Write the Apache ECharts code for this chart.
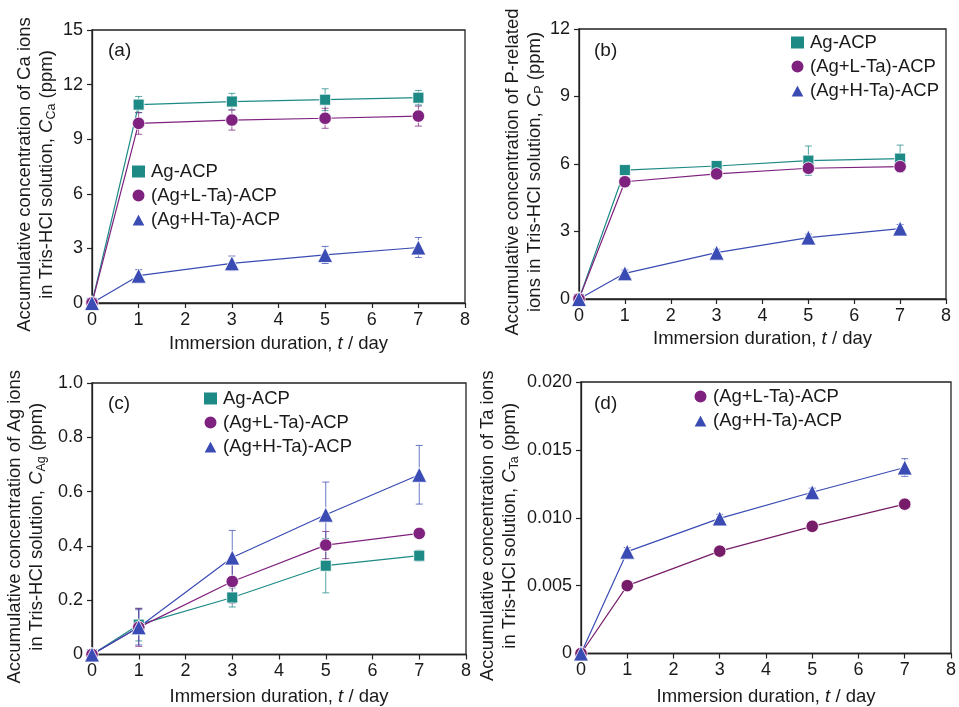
<!DOCTYPE html>
<html>
<head>
<meta charset="utf-8">
<script src="https://cdn.jsdelivr.net/npm/echarts@6/dist/echarts.min.js"></script>
<style>
html,body{margin:0;padding:0;background:#fff;}
#chart{width:959px;height:707px;}
</style>
</head>
<body>
<div id="chart"></div>
<script>
// ---------- data ----------
const days = [0, 1, 3, 5, 7];
const seriesNames = ['Ag-ACP', '(Ag+L-Ta)-ACP', '(Ag+H-Ta)-ACP'];

// (a) Ca ions
const caAg = [0, 10.9, 11.07, 11.17, 11.28];
const caAgErr = [0, 0.45, 0.45, 0.6, 0.4];
const caL = [0, 9.87, 10.05, 10.15, 10.27];
const caLErr = [0, 0.6, 0.55, 0.55, 0.55];
const caH = [0, 1.5, 2.18, 2.64, 3.05];
const caHErr = [0, 0.33, 0.4, 0.47, 0.55];

// (b) P-related ions
const pAg = [0, 5.73, 5.91, 6.15, 6.24];
const pAgErr = [0, 0.1, 0.1, 0.65, 0.6];
const pL = [0, 5.21, 5.56, 5.81, 5.88];
const pLErr = [0, 0.1, 0.12, 0.22, 0.2];
const pH = [0, 1.14, 2.06, 2.73, 3.13];
const pHErr = [0, 0.15, 0.15, 0.15, 0.18];

// (c) Ag ions
const agAg = [0, 0.11, 0.21, 0.327, 0.364];
const agAgErr = [0, 0.06, 0.035, 0.1, 0.02];
const agL = [0, 0.10, 0.269, 0.403, 0.446];
const agLErr = [0, 0.07, 0.08, 0.05, 0.015];
const agH = [0, 0.10, 0.357, 0.515, 0.662];
const agHErr = [0, 0.065, 0.1, 0.12, 0.108];

// (d) Ta ions
const taL = [0, 0.005, 0.00754, 0.00937, 0.0110];
const taLErr = [0, 0.0002, 0.0002, 0.0002, 0.0002];
const taH = [0, 0.0075, 0.00995, 0.01188, 0.0137];
const taHErr = [0, 0.0003, 0.0003, 0.0003, 0.00065];

// axis ticks
const xTicks = [0, 1, 2, 3, 4, 5, 6, 7, 8];
const yTicksA = [0, 3, 6, 9, 12, 15];
const yTicksB = [0, 3, 6, 9, 12];
const yTicksC = [0, 0.2, 0.4, 0.6, 0.8, 1.0];
const yTicksD = [0, 0.005, 0.010, 0.015, 0.020];

const yTitleA = ['Accumulative concentration of Ca ions', 'in Tris-HCl solution, ', 'Ca'];
const yTitleB = ['Accumulative concentration of P-related', 'ions in Tris-HCl solution, ', 'P'];
const yTitleC = ['Accumulative concentration of Ag ions', 'in Tris-HCl solution, ', 'Ag'];
const yTitleD = ['Accumulative concentration of Ta ions', 'in Tris-HCl solution, ', 'Ta'];
const panelLabels = ['(a)', '(b)', '(c)', '(d)'];

// ---------- style ----------
const TEAL = '#1d8a86';
const PURPLE = '#7f227f';
const PURPLE_D = '#761c68';
const BLUE = '#3a4bb3';
const FONT = '"Liberation Sans", Arial, Helvetica, sans-serif';
const TXT = '#1a1a1a';

const grids = [
  {left: 92, top: 30, width: 373, height: 273},
  {left: 579, top: 29, width: 367, height: 270},
  {left: 92, top: 383, width: 374, height: 274},
  {left: 581, top: 382, width: 376, height: 274}
];

const yTickSets = [yTicksA, yTicksB, yTicksC, yTicksD];
const yDecimals = [0, 0, 1, 3];
const yTitles = [yTitleA, yTitleB, yTitleC, yTitleD];
const yNameGaps = [34, 33, 44, 60];
const xNameGaps = [30, 29, 31, 32];

const nameRich = {
  n: {fontSize: 18.5, lineHeight: 22, fontFamily: FONT, color: TXT},
  i: {fontSize: 18.5, lineHeight: 22, fontFamily: FONT, color: TXT, fontStyle: 'italic'},
  s: {fontSize: 12.5, lineHeight: 12, fontFamily: FONT, color: TXT, verticalAlign: 'bottom'}
};

const xAxes = grids.map((g, k) => ({
  type: 'value', gridIndex: k,
  min: xTicks[0], max: xTicks[xTicks.length - 1], interval: xTicks[1] - xTicks[0],
  name: '{n|Immersion duration, }{i|t}{n| / day}',
  nameLocation: 'middle', nameGap: xNameGaps[k],
  nameTextStyle: {rich: nameRich},
  axisLine: {show: true, onZero: false, lineStyle: {color: '#222', width: 1.3}},
  axisTick: {show: true, inside: false, length: 5, lineStyle: {color: '#222', width: 1.2}},
  axisLabel: {fontSize: 18, fontFamily: FONT, color: TXT, margin: 8},
  splitLine: {show: false}
}));

const yAxes = grids.map((g, k) => {
  const t = yTickSets[k];
  const dec = yDecimals[k];
  const tt = yTitles[k];
  return {
    type: 'value', gridIndex: k,
    min: t[0], max: t[t.length - 1], interval: t[1] - t[0],
    name: '{n|' + tt[0] + '}\n{n|' + tt[1] + '}{i|C}{s|' + tt[2] + '}{n| (ppm)}',
    nameLocation: 'middle', nameRotate: 90, nameGap: yNameGaps[k],
    nameTextStyle: {rich: nameRich, align: 'center', padding: [0, 16, 0, 0]},
    axisLine: {show: true, onZero: false, lineStyle: {color: '#222', width: 1.3}},
    axisTick: {show: true, inside: false, length: 5, lineStyle: {color: '#222', width: 1.2}},
    axisLabel: {fontSize: 18, fontFamily: FONT, color: TXT, margin: 9,
      formatter: v => (Math.abs(v) < 1e-12 ? '0' : v.toFixed(dec))},
    splitLine: {show: false}
  };
});

function errRender(params, api) {
  const x = api.value(0), y = api.value(1), e = api.value(2);
  if (!e) return null;
  const hi = api.coord([x, y + e]);
  const lo = api.coord([x, y - e]);
  const cw = 3.5;
  const style = {stroke: api.visual('color'), lineWidth: 1, opacity: 0.75};
  return {
    type: 'group',
    children: [
      {type: 'line', shape: {x1: hi[0], y1: hi[1], x2: lo[0], y2: lo[1]}, style: style},
      {type: 'line', shape: {x1: hi[0] - cw, y1: hi[1], x2: hi[0] + cw, y2: hi[1]}, style: style},
      {type: 'line', shape: {x1: lo[0] - cw, y1: lo[1], x2: lo[0] + cw, y2: lo[1]}, style: style}
    ]
  };
}

const symbols = {'Ag-ACP': ['rect', 11], '(Ag+L-Ta)-ACP': ['circle', 12.5], '(Ag+H-Ta)-ACP': ['triangle', 15]};

const series = [];
function addSeries(k, name, vals, errs, color) {
  const sym = symbols[name];
  series.push({
    type: 'custom', xAxisIndex: k, yAxisIndex: k, z: 1,
    renderItem: errRender, itemStyle: {color: color},
    encode: {x: 0, y: 1}, silent: true,
    data: days.map((d, i) => [d, vals[i], errs[i]])
  });
  series.push({
    type: 'line', name: name, xAxisIndex: k, yAxisIndex: k, z: 3,
    symbol: sym[0], symbolSize: sym[1],
    lineStyle: {color: color, width: 1.2},
    itemStyle: {color: color, borderColor: '#fff', borderWidth: 0.8},
    emphasis: {disabled: true}, animation: false,
    data: days.map((d, i) => [d, vals[i]])
  });
}
addSeries(0, seriesNames[0], caAg, caAgErr, TEAL);
addSeries(0, seriesNames[1], caL, caLErr, PURPLE);
addSeries(0, seriesNames[2], caH, caHErr, BLUE);
addSeries(1, seriesNames[0], pAg, pAgErr, TEAL);
addSeries(1, seriesNames[1], pL, pLErr, PURPLE);
addSeries(1, seriesNames[2], pH, pHErr, BLUE);
addSeries(2, seriesNames[0], agAg, agAgErr, TEAL);
addSeries(2, seriesNames[1], agL, agLErr, PURPLE);
addSeries(2, seriesNames[2], agH, agHErr, BLUE);
addSeries(3, seriesNames[1], taL, taLErr, PURPLE_D);
addSeries(3, seriesNames[2], taH, taHErr, BLUE);

const legendIcons = {'Ag-ACP': 'rect', '(Ag+L-Ta)-ACP': 'circle', '(Ag+H-Ta)-ACP': 'triangle'};
function mkLegend(names, left, top) {
  return {
    orient: 'vertical', left: left, top: top, itemGap: 5, itemWidth: 15, itemHeight: 14,
    selectedMode: false, padding: 0,
    textStyle: {fontSize: 18.5, fontFamily: FONT, color: TXT, padding: [0, 0, 0, 0]},
    data: names.map(n => ({name: n, icon: legendIcons[n]}))
  };
}
const legends = [
  mkLegend(seriesNames, 130, 162),
  mkLegend(seriesNames, 789, 33),
  mkLegend(seriesNames, 202, 389),
  mkLegend([seriesNames[1], seriesNames[2]], 692, 387)
];

const labelPos = [[108, 41], [594, 41], [108, 394], [594, 394]];
const graphics = panelLabels.map((t, k) => ({
  type: 'text', left: labelPos[k][0], top: labelPos[k][1],
  style: {text: t, fontSize: 19, fontFamily: FONT, fill: TXT}
}));

const chart = echarts.init(document.getElementById('chart'), null, {renderer: 'canvas'});
chart.setOption({
  animation: false,
  backgroundColor: '#fff',
  grid: grids.map(g => Object.assign({show: true, borderColor: '#222', borderWidth: 1.3, backgroundColor: 'transparent'}, g)),
  xAxis: xAxes,
  yAxis: yAxes,
  legend: legends,
  graphic: graphics,
  series: series
});
</script>
</body>
</html>
